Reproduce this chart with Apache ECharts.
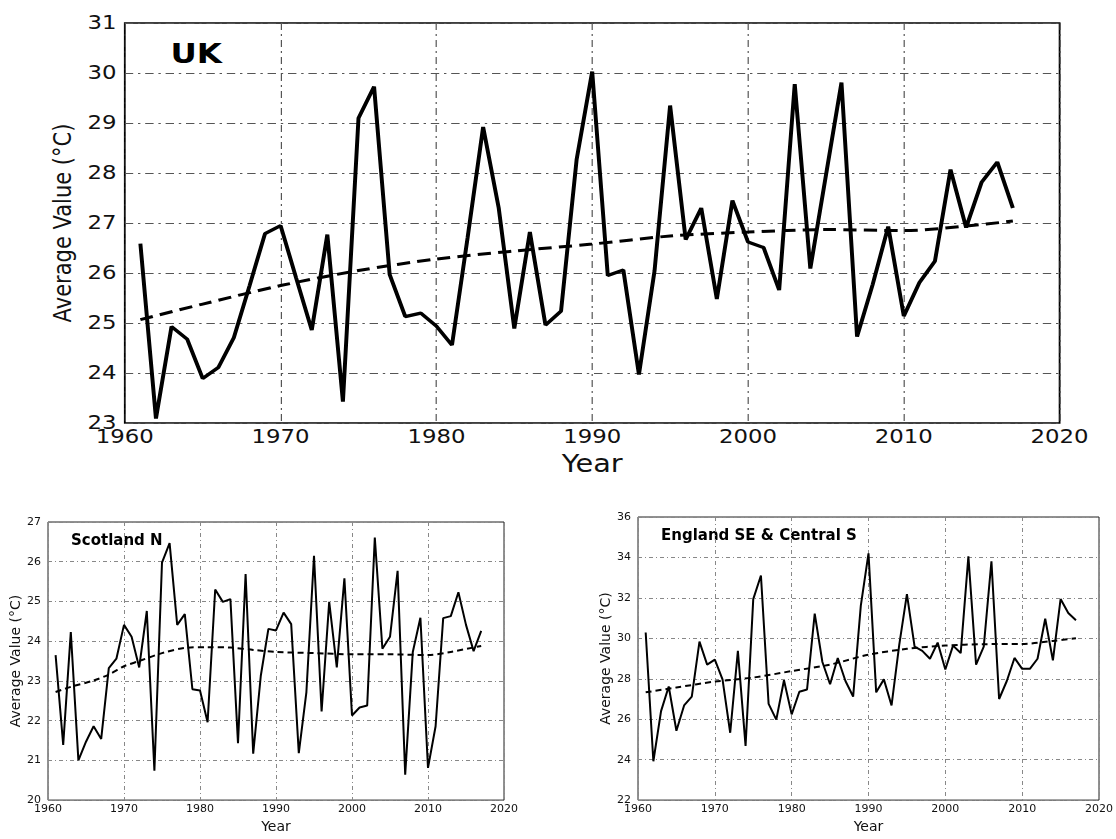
<!DOCTYPE html>
<html>
<head>
<meta charset="utf-8">
<script src="https://cdn.jsdelivr.net/npm/echarts@6/dist/echarts.min.js"></script>
<style>
  body { margin: 0; background: #fff; overflow: hidden; }
  /* the UK panel of the source figure is stretched sideways, so the chart is drawn narrow and scaled */
  #ukChart { position: absolute; left: 0; top: 0; width: 930px; height: 480px; transform: scaleX(1.2); transform-origin: 0 0; }
  #regionChart { position: absolute; left: 0; top: 480px; width: 1116px; height: 359px; }
</style>
</head>
<body>
<div id="ukChart"></div>
<div id="regionChart"></div>
<script>
// Years of record
const years = [1961, 1962, 1963, 1964, 1965, 1966, 1967, 1968, 1969, 1970,
  1971, 1972, 1973, 1974, 1975, 1976, 1977, 1978, 1979, 1980,
  1981, 1982, 1983, 1984, 1985, 1986, 1987, 1988, 1989, 1990,
  1991, 1992, 1993, 1994, 1995, 1996, 1997, 1998, 1999, 2000,
  2001, 2002, 2003, 2004, 2005, 2006, 2007, 2008, 2009, 2010,
  2011, 2012, 2013, 2014, 2015, 2016, 2017];

// UK average values
const ukValues = [26.59, 23.09, 24.93, 24.68, 23.89, 24.11, 24.71, 25.74, 26.79, 26.95,
  25.9, 24.86, 26.77, 23.43, 29.1, 29.73, 25.97, 25.13, 25.2, 24.94,
  24.56, 26.7, 28.92, 27.3, 24.89, 26.82, 24.96, 25.24, 28.27, 30.03,
  25.95, 26.06, 23.97, 26.04, 29.35, 26.67, 27.3, 25.48, 27.45, 26.62,
  26.51, 25.66, 29.78, 26.09, 27.95, 29.81, 24.73, 25.77, 26.93, 25.14,
  25.81, 26.24, 28.07, 26.91, 27.82, 28.22, 27.3];
const ukTrendYears = [1961, 1965, 1970, 1975, 1980, 1985, 1990, 1995, 2000, 2005, 2010, 2014, 2017];
const ukTrend = [25.07, 25.38, 25.75, 26.05, 26.28, 26.44, 26.58, 26.74, 26.82, 26.87, 26.85, 26.94, 27.04];

// Scotland N average values
const scotValues = [23.65, 21.39, 24.23, 21.0, 21.47, 21.86, 21.54, 23.32, 23.56, 24.41,
  24.11, 23.34, 24.76, 20.74, 25.98, 26.47, 24.41, 24.68, 22.79, 22.76,
  21.96, 25.3, 24.99, 25.06, 21.43, 25.69, 21.17, 23.13, 24.31, 24.27,
  24.72, 24.43, 21.18, 22.72, 26.15, 22.23, 24.99, 23.34, 25.58, 22.13,
  22.33, 22.38, 26.61, 23.81, 24.11, 25.77, 20.64, 23.73, 24.59, 20.81,
  21.86, 24.58, 24.63, 25.23, 24.41, 23.75, 24.26];
const scotTrendYears = [1961, 1963, 1966, 1968, 1970, 1972, 1975, 1978, 1981, 1984, 1987, 1990, 1995, 2000, 2005, 2010, 2013, 2017];
const scotTrend = [22.72, 22.85, 23.01, 23.16, 23.37, 23.5, 23.7, 23.83, 23.85, 23.84, 23.78, 23.73, 23.7, 23.67, 23.67, 23.65, 23.73, 23.88];

// England SE & Central S average values
const engValues = [30.29, 23.92, 26.4, 27.62, 25.43, 26.68, 27.12, 29.84, 28.7, 28.95,
  27.97, 25.33, 29.38, 24.68, 31.94, 33.11, 26.76, 25.98, 27.93, 26.24,
  27.36, 27.47, 31.22, 28.83, 27.73, 29.03, 27.89, 27.12, 31.62, 34.2,
  27.33, 27.97, 26.68, 29.68, 32.19, 29.59, 29.38, 28.99, 29.79, 28.46,
  29.64, 29.27, 34.05, 28.7, 29.59, 33.81, 27.0, 27.89, 29.03, 28.49,
  28.49, 28.99, 30.97, 28.91, 31.94, 31.25, 30.89];
const engTrendYears = [1961, 1965, 1970, 1975, 1980, 1985, 1990, 1995, 2000, 2005, 2010, 2014, 2017];
const engTrend = [27.33, 27.57, 27.86, 28.06, 28.38, 28.7, 29.19, 29.48, 29.64, 29.71, 29.72, 29.87, 30.0];

const font = 'DejaVu Sans';

function pairs (xs, ys) {
    return xs.map((x, i) => [x, ys[i]]);
}

// Shared axis builders
function xAxisFor (gridIndex, labelSize, nameSize, nameGap, dash, gridColor) {
    return {
        type: 'value', gridIndex: gridIndex, min: 1960, max: 2020, interval: 10,
        name: 'Year', nameLocation: 'middle', nameGap: nameGap,
        nameTextStyle: { fontFamily: font, fontSize: nameSize, color: '#111' },
        axisLine: { show: false }, axisTick: { show: false },
        axisLabel: { formatter: v => String(v), fontFamily: font, fontSize: labelSize, color: '#111', margin: 4 },
        splitLine: { show: true, lineStyle: { color: gridColor, width: 1, type: dash } }
    };
}

function yAxisFor (gridIndex, min, max, interval, labelSize, nameSize, nameGap, dash, gridColor) {
    return {
        type: 'value', gridIndex: gridIndex, min: min, max: max, interval: interval,
        name: 'Average Value (°C)', nameLocation: 'middle', nameRotate: 90, nameGap: nameGap,
        nameTextStyle: { fontFamily: font, fontSize: nameSize, color: '#111' },
        axisLine: { show: false }, axisTick: { show: false },
        axisLabel: { fontFamily: font, fontSize: labelSize, color: '#111', margin: 7 },
        splitLine: { show: true, lineStyle: { color: gridColor, width: 1, type: dash } }
    };
}

// UK panel
const ukChart = echarts.init(document.getElementById('ukChart'), null, { renderer: 'svg' });
ukChart.setOption({
    animation: false,
    grid: { left: 104, right: 47, top: 23, bottom: 56, show: true, borderColor: '#000', borderWidth: 1.5 },
    xAxis: xAxisFor(0, 19, 24, 26, [7, 4, 2, 4], '#555'),
    yAxis: yAxisFor(0, 23, 31, 1, 19, 21, 40, [7, 4, 2, 4], '#555'),
    graphic: [
        { type: 'text', left: 142, top: 40, style: { text: 'UK', font: 'bold 27px "DejaVu Sans"', fill: '#000' } }
    ],
    series: [
        {
            type: 'line', data: pairs(years, ukValues), symbol: 'none',
            lineStyle: { color: '#000', width: 3.3 }
        },
        {
            type: 'line', data: pairs(ukTrendYears, ukTrend), symbol: 'none', smooth: 0.3,
            lineStyle: { color: '#000', width: 3, type: [11, 6] }
        }
    ]
});

// Regional panels
const regionChart = echarts.init(document.getElementById('regionChart'));
regionChart.setOption({
    animation: false,
    grid: [
        { left: 48, width: 456, top: 42, bottom: 34, show: true, borderColor: '#222', borderWidth: 1 },
        { left: 638, width: 463, top: 37, bottom: 35, show: true, borderColor: '#222', borderWidth: 1 }
    ],
    xAxis: [
        xAxisFor(0, 11, 14, 18, [4, 3, 1, 3], '#888'),
        xAxisFor(1, 11, 14, 18, [4, 3, 1, 3], '#888')
    ],
    yAxis: [
        yAxisFor(0, 20, 27, 1, 11, 14, 24, [4, 3, 1, 3], '#888'),
        yAxisFor(1, 22, 36, 2, 11, 14, 24, [4, 3, 1, 3], '#888')
    ],
    graphic: [
        { type: 'text', left: 71, top: 54, style: { text: 'Scotland N', font: 'bold 15px "DejaVu Sans"', fill: '#000' } },
        { type: 'text', left: 661, top: 49, style: { text: 'England SE & Central S', font: 'bold 15px "DejaVu Sans"', fill: '#000' } }
    ],
    series: [
        {
            type: 'line', xAxisIndex: 0, yAxisIndex: 0, data: pairs(years, scotValues), symbol: 'none',
            lineStyle: { color: '#000', width: 2 }
        },
        {
            type: 'line', xAxisIndex: 0, yAxisIndex: 0, data: pairs(scotTrendYears, scotTrend), symbol: 'none', smooth: 0.3,
            lineStyle: { color: '#000', width: 2, type: [6, 4] }
        },
        {
            type: 'line', xAxisIndex: 1, yAxisIndex: 1, data: pairs(years, engValues), symbol: 'none',
            lineStyle: { color: '#000', width: 2 }
        },
        {
            type: 'line', xAxisIndex: 1, yAxisIndex: 1, data: pairs(engTrendYears, engTrend), symbol: 'none', smooth: 0.3,
            lineStyle: { color: '#000', width: 2, type: [6, 4] }
        }
    ]
});
</script>
</body>
</html>
